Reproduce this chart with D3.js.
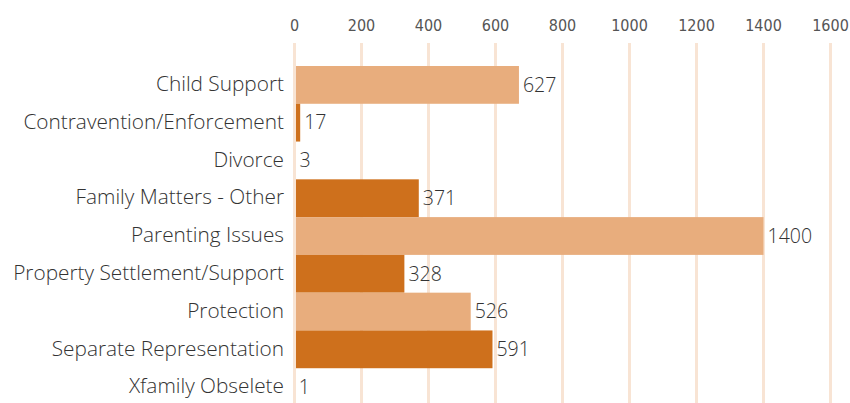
<!DOCTYPE html>
<html>
<head>
<meta charset="utf-8">
<script src="https://cdn.jsdelivr.net/npm/d3@7"></script>
<style>
  body { margin: 0; background: #fff; }
  .tick-label { font-family: "Liberation Sans Narrow", "DejaVu Sans Condensed", sans-serif; font-size: 16px; fill: #555; }
  .cat-label { font-family: "Open Sans", "Noto Sans", sans-serif; font-weight: 300; font-size: 20.8px; fill: #333; }
  .val-label { font-family: "Open Sans", "Noto Sans", sans-serif; font-weight: 300; font-size: 19.5px; fill: #333; }
</style>
</head>
<body>
<svg id="chart" width="850" height="403"></svg>
<script>
// categories, top to bottom
const categories = [
  "Child Support",
  "Contravention/Enforcement",
  "Divorce",
  "Family Matters - Other",
  "Parenting Issues",
  "Property Settlement/Support",
  "Protection",
  "Separate Representation",
  "Xfamily Obselete",
];
// bar lengths
const values = [670, 17, 3, 371, 1400, 328, 526, 591, 1];
// data labels printed next to the bars
const valueLabels = ["627", "17", "3", "371", "1400", "328", "526", "591", "1"];
const ticks = [0, 200, 400, 600, 800, 1000, 1200, 1400, 1600];

const colLight = "#e8ad7d";
const colDark = "#ce701c";
const gridCol = "#f8e4d4";

const svg = d3.select("#chart");

// scales
const x = d3.scaleLinear().domain([0, 1600]).range([294.5, 830.5]);
const y = d3.scaleBand().domain(categories).range([66, 406]).padding(0);

// vertical grid lines
svg.append("g")
  .selectAll("line")
  .data(ticks)
  .join("line")
  .attr("x1", (d) => x(d))
  .attr("x2", (d) => x(d))
  .attr("y1", 43)
  .attr("y2", 403)
  .attr("stroke", gridCol)
  .attr("stroke-width", 3);

// top axis labels
svg.append("g")
  .selectAll("text")
  .data(ticks)
  .join("text")
  .attr("class", "tick-label")
  .attr("x", (d) => x(d))
  .attr("y", 31)
  .attr("text-anchor", "middle")
  .text((d) => d);

// bars, alternating colours
svg.append("g")
  .selectAll("rect")
  .data(values)
  .join("rect")
  .attr("x", x(0) + 1.5)
  .attr("y", (d, i) => y(categories[i]))
  .attr("width", (d) => Math.max(0, x(d) - x(0) - 1.5))
  .attr("height", y.bandwidth())
  .attr("fill", (d, i) => (i % 2 === 0 ? colLight : colDark));

// category labels
svg.append("g")
  .selectAll("text")
  .data(categories)
  .join("text")
  .attr("class", "cat-label")
  .attr("x", 284)
  .attr("y", (d) => y(d) + y.bandwidth() / 2)
  .attr("dy", "0.3em")
  .attr("text-anchor", "end")
  .text((d) => d);

// value labels
svg.append("g")
  .selectAll("text")
  .data(values)
  .join("text")
  .attr("class", "val-label")
  .attr("x", (d) => x(d) + 4)
  .attr("y", (d, i) => y(categories[i]) + y.bandwidth() / 2)
  .attr("dy", "0.35em")
  .text((d, i) => valueLabels[i]);
</script>
</body>
</html>
